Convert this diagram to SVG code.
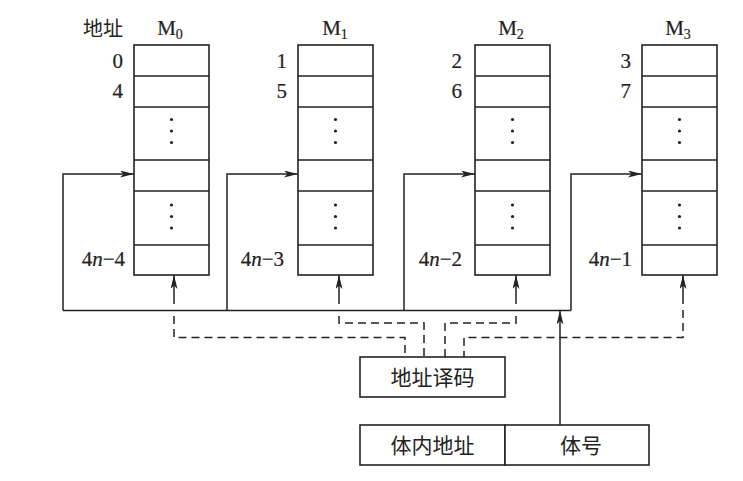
<svg xmlns="http://www.w3.org/2000/svg" width="743" height="481" viewBox="0 0 743 481">
<style>
.box{fill:#fff;stroke:#222;stroke-width:1.6}
.ln{fill:none;stroke:#222;stroke-width:1.5}
.dash{fill:none;stroke:#222;stroke-width:1.5;stroke-dasharray:8,5}
.ser{font-family:"Liberation Serif","Times New Roman",serif;font-size:21px;fill:#222;stroke:#222;stroke-width:0.2}
.cjk{font-family:"Noto Sans CJK SC","Noto Sans",sans-serif;fill:#222}
.dot{fill:#222}
</style>
<defs>
<marker id="ah" markerUnits="userSpaceOnUse" markerWidth="15" markerHeight="8" refX="14" refY="3.5" orient="auto">
<path d="M0,0 L14,3.5 L0,7 L3.5,3.5 z" fill="#222"/>
</marker>
<g id="bank">
<rect class="box" x="0" y="0" width="75" height="230"/>
<line class="ln" x1="0" y1="31" x2="75" y2="31"/>
<line class="ln" x1="0" y1="62" x2="75" y2="62"/>
<line class="ln" x1="0" y1="115" x2="75" y2="115"/>
<line class="ln" x1="0" y1="146" x2="75" y2="146"/>
<line class="ln" x1="0" y1="200" x2="75" y2="200"/>
<circle class="dot" cx="37.5" cy="74.5" r="1.6"/>
<circle class="dot" cx="37.5" cy="86" r="1.6"/>
<circle class="dot" cx="37.5" cy="97.5" r="1.6"/>
<circle class="dot" cx="37.5" cy="160" r="1.6"/>
<circle class="dot" cx="37.5" cy="171.5" r="1.6"/>
<circle class="dot" cx="37.5" cy="183" r="1.6"/>
</g>
</defs>
<rect width="743" height="481" fill="#fff"/>

<text class="cjk" x="123" y="36" font-size="20" text-anchor="end">地址</text>

<g id="M0">
<use href="#bank" x="134" y="45"/>
<text class="ser" x="170" y="35" text-anchor="middle">M<tspan font-size="14" dy="4">0</tspan></text>
<text class="ser" x="123" y="68" text-anchor="end">0</text>
<text class="ser" x="123" y="98" text-anchor="end">4</text>
<text class="ser" x="125" y="266" text-anchor="end">4<tspan font-style="italic">n</tspan>−4</text>
</g>
<g id="M1">
<use href="#bank" x="298" y="45"/>
<text class="ser" x="335" y="35" text-anchor="middle">M<tspan font-size="14" dy="4">1</tspan></text>
<text class="ser" x="287" y="68" text-anchor="end">1</text>
<text class="ser" x="287" y="98" text-anchor="end">5</text>
<text class="ser" x="284" y="266" text-anchor="end">4<tspan font-style="italic">n</tspan>−3</text>
</g>
<g id="M2">
<use href="#bank" x="475" y="45"/>
<text class="ser" x="511" y="35" text-anchor="middle">M<tspan font-size="14" dy="4">2</tspan></text>
<text class="ser" x="462" y="68" text-anchor="end">2</text>
<text class="ser" x="462" y="98" text-anchor="end">6</text>
<text class="ser" x="462" y="266" text-anchor="end">4<tspan font-style="italic">n</tspan>−2</text>
</g>
<g id="M3">
<use href="#bank" x="642" y="45"/>
<text class="ser" x="678" y="35" text-anchor="middle">M<tspan font-size="14" dy="4">3</tspan></text>
<text class="ser" x="631" y="68" text-anchor="end">3</text>
<text class="ser" x="631" y="98" text-anchor="end">7</text>
<text class="ser" x="632" y="266" text-anchor="end">4<tspan font-style="italic">n</tspan>−1</text>
</g>

<g id="decoder">
<rect class="box" x="360" y="357" width="145" height="40"/>
<text class="cjk" x="432.5" y="385" font-size="21" text-anchor="middle">地址译码</text>
</g>
<g id="address">
<rect class="box" x="360" y="425" width="145" height="40"/>
<rect class="box" x="505" y="425" width="144" height="40"/>
<text class="cjk" x="432.5" y="453" font-size="21" text-anchor="middle">体内地址</text>
<text class="cjk" x="581" y="453" font-size="21" text-anchor="middle">体号</text>
</g>

<g id="connectors">
<path class="ln" d="M63,310.5 H571"/>
<path class="ln" d="M63,310.5 V174 H134" marker-end="url(#ah)"/>
<path class="ln" d="M227,310.5 V174 H298" marker-end="url(#ah)"/>
<path class="ln" d="M404,310.5 V174 H475" marker-end="url(#ah)"/>
<path class="ln" d="M571,310.5 V174 H642" marker-end="url(#ah)"/>
<path class="ln" d="M560,425 V310.5" marker-end="url(#ah)"/>
<path class="ln" d="M174,304 V275" marker-end="url(#ah)"/>
<path class="ln" d="M339,304 V275" marker-end="url(#ah)"/>
<path class="ln" d="M516,304 V275" marker-end="url(#ah)"/>
<path class="ln" d="M683,304 V275" marker-end="url(#ah)"/>
<path class="dash" d="M174,316 V337.5 H405 V357"/>
<path class="dash" d="M339,316 V323 H424 V357"/>
<path class="dash" d="M516,316 V323 H445 V357"/>
<path class="dash" d="M683,310 V337.5 H464 V357"/>
</g>
</svg>
